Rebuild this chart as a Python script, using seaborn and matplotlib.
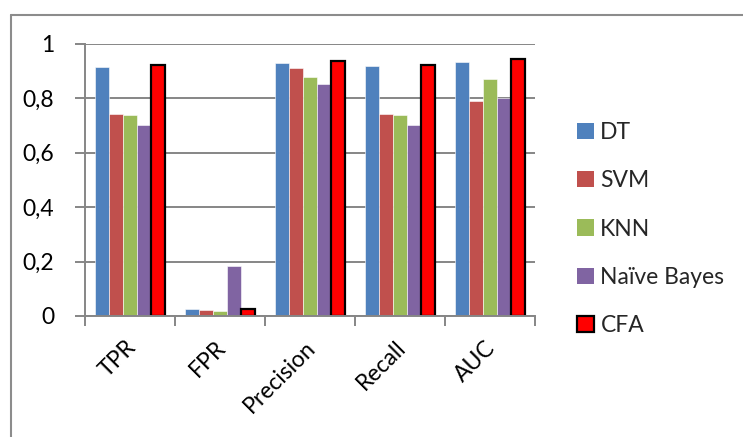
import matplotlib
matplotlib.use("Agg")
import matplotlib.pyplot as plt
import matplotlib.ticker as mticker
import matplotlib.transforms as mtransforms
from matplotlib.patches import Patch
from matplotlib.lines import Line2D
import seaborn as sns
import pandas as pd

metrics = ["TPR", "FPR", "Precision", "Recall", "AUC"]
models = ["DT", "SVM", "KNN", "Naïve Bayes", "CFA"]
dt = [0.917, 0.025, 0.930, 0.918, 0.935]
svm = [0.744, 0.021, 0.911, 0.744, 0.790]
knn = [0.738, 0.018, 0.877, 0.738, 0.872]
naive_bayes = [0.701, 0.184, 0.854, 0.701, 0.801]
cfa = [0.922, 0.026, 0.936, 0.922, 0.946]
y_ticks = [0, 0.2, 0.4, 0.6, 0.8, 1.0]

colors = ["#4F81BD", "#C0504D", "#9BBB59", "#8064A2", "#FF0000"]

rows = []
for model, vals in zip(models, [dt, svm, knn, naive_bayes, cfa]):
    for m, v in zip(metrics, vals):
        rows.append({"Metric": m, "Model": model, "Value": v})
df = pd.DataFrame(rows)

sns.set_theme(style="white")
plt.rcParams["font.family"] = ["Lato", "DejaVu Sans"]

FS = 16.5
W, H = 743, 437
fig = plt.figure(figsize=(W / 100, H / 100), dpi=100)
ax = fig.add_axes([85 / W, 1 - 316 / H, 450 / W, 272 / H])

sns.barplot(data=df, x="Metric", y="Value", hue="Model", order=metrics,
            hue_order=models, palette=colors, width=0.78, gap=0,
            saturation=1, ax=ax, legend=False, linewidth=0)

# the CFA bars get a black outline
for container, model in zip(ax.containers, models):
    for bar in container:
        if model == "CFA":
            bar.set_edgecolor("black")
            bar.set_linewidth(1.6)
        else:
            bar.set_edgecolor("white")
            bar.set_linewidth(0.4)

grid_c = "#868686"
ax.set_ylim(0, 1)
ax.set_xlim(-0.5, len(metrics) - 0.5)
ax.set_yticks(y_ticks)
ax.yaxis.set_major_formatter(mticker.FuncFormatter(
    lambda v, p: ("%g" % round(v, 1)).replace(".", ",")))
ax.yaxis.grid(True, color=grid_c, linewidth=1.4)
ax.set_axisbelow(True)
ax.set_xlabel("")
ax.set_ylabel("")
for s in ["top", "right"]:
    ax.spines[s].set_visible(False)
for s in ["left", "bottom"]:
    ax.spines[s].set_color(grid_c)
    ax.spines[s].set_linewidth(1.4)

# category-boundary ticks on x, outward ticks on y
ax.set_xticks(range(len(metrics)))
ax.set_xticks([i - 0.5 for i in range(len(metrics) + 1)], minor=True)
ax.tick_params(axis="x", which="major", length=0, pad=15)
ax.tick_params(axis="x", which="minor", length=7, width=1.4, color=grid_c,
               direction="out", bottom=True)
ax.tick_params(axis="y", length=7, width=1.4, color=grid_c, direction="out",
               left=True, pad=15)
ax.set_xticklabels(metrics, rotation=45, ha="right", va="top",
                   rotation_mode="anchor", fontsize=FS, color="black")
shift = mtransforms.ScaledTranslation(-5 / 100, 0, fig.dpi_scale_trans)
for lbl in ax.get_xticklabels():
    lbl.set_transform(lbl.get_transform() + shift)
for lbl in ax.get_yticklabels():
    lbl.set_fontsize(FS)
    lbl.set_color("black")

handles = []
for model, c in zip(models, colors):
    if model == "CFA":
        handles.append(Patch(facecolor=c, edgecolor="black", linewidth=1.6))
    else:
        handles.append(Patch(facecolor=c, edgecolor="none"))
fig.legend(handles, models, loc="center left",
           bbox_to_anchor=(566 / W, 1 - 229 / H), frameon=False,
           fontsize=FS, handlelength=0.7, handleheight=0.7,
           handletextpad=0.3, labelspacing=1.18, borderpad=0)

# chart-area border
border_c = "#8C8C8C"
fig.add_artist(Line2D([10.5 / W, 10.5 / W], [0, 1 - 14.5 / H],
                      transform=fig.transFigure, color=border_c, lw=1.5))
fig.add_artist(Line2D([10.5 / W, 1], [1 - 14.5 / H, 1 - 14.5 / H],
                      transform=fig.transFigure, color=border_c, lw=1.5))

fig.savefig("out.png", dpi=100)
